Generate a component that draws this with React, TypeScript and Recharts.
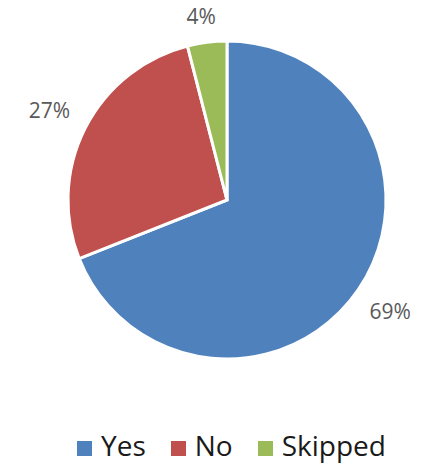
import { PieChart, Pie, Cell, Legend } from 'recharts'

const categories = ['Yes', 'No', 'Skipped']
const shares = [69, 27, 4]
const colors = ['#4F81BD', '#C0504D', '#9BBB59']

const data = categories.map((name, i) => ({ name, value: shares[i] }))

const RAD = Math.PI / 180

interface LabelProps {
  cx: number
  cy: number
  midAngle: number
  outerRadius: number
  value: number
}

const renderLabel = ({ cx, cy, midAngle, outerRadius, value }: LabelProps) => {
  const s = Math.abs(Math.cos(-midAngle * RAD))
  const r = outerRadius + 24 + 18 * s
  const x = cx + r * Math.cos(-midAngle * RAD)
  const y = cy + r * Math.sin(-midAngle * RAD)
  return (
    <text
      x={x - 3 * (1 - s)}
      y={y}
      textAnchor="middle"
      dominantBaseline="central"
      fill="#595959"
      fontSize={21}
      fontFamily="'Open Sans', sans-serif"
    >
      {`${value}%`}
    </text>
  )
}

const LegendContent = () => (
  <div
    style={{
      display: 'flex',
      justifyContent: 'center',
      alignItems: 'center',
      fontFamily: "'Open Sans', sans-serif",
      fontSize: 28,
      color: '#1a1a1a',
      lineHeight: '30px',
    }}
  >
    {categories.map((c, i) => (
      <div key={c} style={{ display: 'flex', alignItems: 'center', marginRight: i < categories.length - 1 ? 25 : 0 }}>
        <span style={{ width: 15, height: 15, background: colors[i], marginRight: 9, marginTop: 6 }} />
        <span>{c}</span>
      </div>
    ))}
  </div>
)

export default function App() {
  return (
    <div style={{ position: 'absolute', left: 0, top: 0, background: '#fff' }}>
      <PieChart width={431} height={463} margin={{ top: 0, right: 0, bottom: 0, left: 0 }}>
        <Pie
          data={data}
          dataKey="value"
          nameKey="name"
          cx={227}
          cy={200}
          outerRadius={159}
          startAngle={90}
          endAngle={-270}
          stroke="#ffffff"
          strokeWidth={3}
          label={renderLabel}
          labelLine={false}
          isAnimationActive={false}
        >
          {data.map((d, i) => (
            <Cell key={d.name} fill={colors[i]} />
          ))}
        </Pie>
        <Legend
          content={<LegendContent />}
          verticalAlign="bottom"
          wrapperStyle={{ top: 430, left: 16, width: 431, bottom: 'auto' }}
        />
      </PieChart>
    </div>
  )
}
